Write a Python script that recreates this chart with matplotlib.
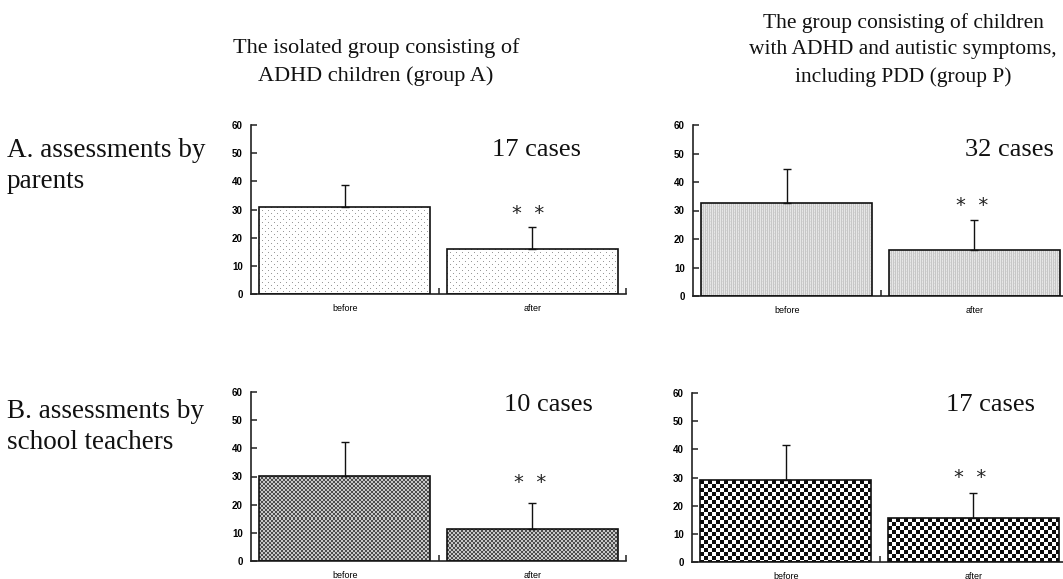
import numpy as np
import matplotlib.pyplot as plt

W, H = 1063, 579

# values (mean and upward SD bar)
categories = ['before', 'after']
yticks = [0, 10, 20, 30, 40, 50, 60]

a_parents_mean = [30.8, 15.9]
a_parents_sd = [7.9, 7.9]
p_parents_mean = [32.6, 16.1]
p_parents_sd = [11.9, 10.7]
a_teachers_mean = [30.3, 11.4]
a_teachers_sd = [11.8, 9.2]
p_teachers_mean = [29.1, 15.6]
p_teachers_sd = [12.5, 8.9]

case_labels = ['17 cases', '32 cases', '10 cases', '17 cases']
col_titles = ['The isolated group consisting of\nADHD children (group A)',
              'The group consisting of children\nwith ADHD and autistic symptoms,\nincluding PDD (group P)']
row_titles = ['A. assessments by\nparents', 'B. assessments by\nschool teachers']

serif = ['Liberation Serif', 'DejaVu Serif']
sans = ['Liberation Sans', 'DejaVu Sans']


def px(x, y):
    return x / W, 1 - y / H


# textures for the bar fills
def tex_dots(h, w):
    yy, xx = np.mgrid[0:h, 0:w]
    img = np.ones((h, w))
    m = ((yy % 6 == 0) & (xx % 6 == 0)) | ((yy % 6 == 3) & (xx % 6 == 3))
    img[m] = 0.6
    return img


def tex_lines(h, w):
    yy, xx = np.mgrid[0:h, 0:w]
    img = np.where(xx % 2 == 0, 0.78, 0.9)
    img = img - np.where((yy % 3 == 0) & (xx % 4 == 1), 0.05, 0)
    return img


def tex_fine_check(h, w):
    yy, xx = np.mgrid[0:h, 0:w]
    return np.where((xx // 2 + yy // 2) % 2 == 0, 0.3, 0.78)


def tex_check(h, w):
    yy, xx = np.mgrid[0:h, 0:w]
    return np.where((xx // 4 + yy // 4) % 2 == 0, 0.05, 1.0)


def panel(rect, means, sds, texture, case_txt, case_xy, star_xy):
    ax = fig.add_axes(rect)
    x = np.arange(len(categories)) + 0.5
    bars = ax.bar(x, means, width=0.91, facecolor='none', edgecolor='#111111',
                  linewidth=1.2, zorder=3)
    ax.errorbar(x, means, yerr=[np.zeros(len(sds)), sds], fmt='none',
                ecolor='#111111', elinewidth=1.0, capsize=3, capthick=1.0, zorder=2)
    ax.set_xlim(0, 2)
    ax.set_ylim(0, 60)
    for b in bars:
        x0, y0 = b.get_x(), 0
        x1, y1 = b.get_x() + b.get_width(), b.get_height()
        p0 = ax.transData.transform((x0, y0))
        p1 = ax.transData.transform((x1, y1))
        w = max(int(round(p1[0] - p0[0])), 1)
        h = max(int(round(p1[1] - p0[1])), 1)
        im = ax.imshow(texture(h, w), cmap='gray', vmin=0, vmax=1,
                       extent=(x0, x1, y0, y1), aspect='auto',
                       interpolation='nearest', zorder=1)
        im.set_clip_path(b)
    ax.set_xlim(0, 2)
    ax.set_ylim(0, 60)

    for s in ['top', 'right']:
        ax.spines[s].set_visible(False)
    for s in ['left', 'bottom']:
        ax.spines[s].set_linewidth(1.2)
        ax.spines[s].set_color('#222222')
    ax.set_yticks(yticks)
    ax.tick_params(axis='y', direction='in', length=4, width=1.1, pad=6,
                   labelsize=7, color='#222222')
    for t in ax.get_yticklabels():
        t.set_fontweight('bold')
        t.set_family(sans)
    ax.set_xticks([1, 2])
    ax.set_xticklabels([])
    ax.set_xticks(x, minor=True)
    ax.set_xticklabels(categories, minor=True, fontsize=6.5, family=sans)
    ax.tick_params(axis='x', which='major', direction='in', length=4, width=1.1,
                   color='#222222')
    ax.tick_params(axis='x', which='minor', length=0, pad=7)

    fig.text(*px(*case_xy), case_txt, ha='center', va='center', fontsize=19,
             family=serif, color='#111111')
    fig.text(*px(star_xy[0], star_xy[1] + 11), '*  *', ha='center', va='baseline',
             fontsize=14, family=['DejaVu Sans'], color='#222222')
    return ax


fig = plt.figure(figsize=(W / 100, H / 100), dpi=100)

panel([251 / W, 1 - 294 / H, 375 / W, 169 / H], a_parents_mean, a_parents_sd,
      tex_dots, case_labels[0], (537, 150), (528, 208))
panel([693 / W, 1 - 296 / H, 375 / W, 171 / H], p_parents_mean, p_parents_sd,
      tex_lines, case_labels[1], (1009, 150), (972, 200))
panel([251 / W, 1 - 561 / H, 375 / W, 169 / H], a_teachers_mean, a_teachers_sd,
      tex_fine_check, case_labels[2], (548, 405), (530, 477))
panel([692 / W, 1 - 562 / H, 375 / W, 169 / H], p_teachers_mean, p_teachers_sd,
      tex_check, case_labels[3], (990, 405), (970, 472))

fig.text(*px(376, 62), col_titles[0], ha='center', va='center', fontsize=16,
         family=serif, linespacing=1.5, color='#111111')
fig.text(*px(903, 50), col_titles[1], ha='center', va='center', fontsize=15.5,
         family=serif, linespacing=1.5, color='#111111')
fig.text(*px(7, 166), row_titles[0], ha='left', va='center', fontsize=19.5,
         family=serif, linespacing=1.3, color='#111111')
fig.text(*px(7, 427), row_titles[1], ha='left', va='center', fontsize=19.5,
         family=serif, linespacing=1.3, color='#111111')

fig.savefig('out.png', dpi=100)
